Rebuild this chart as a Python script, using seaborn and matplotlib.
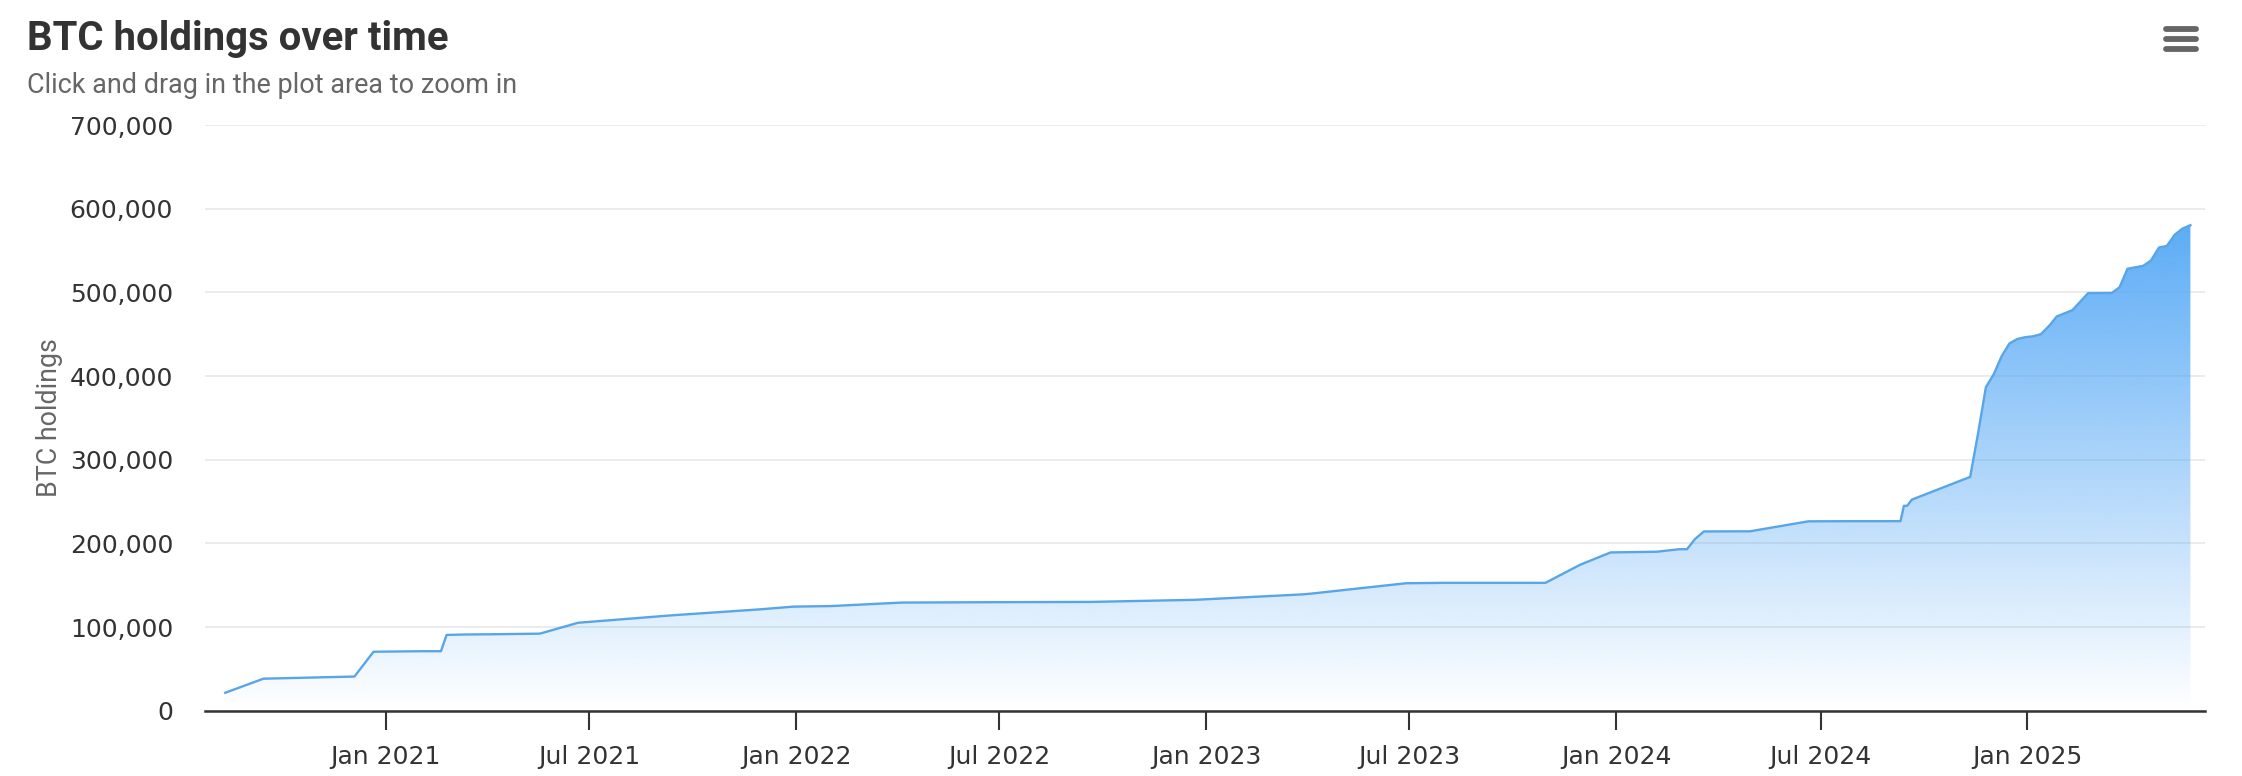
import numpy as np
import pandas as pd
import matplotlib
matplotlib.use("Agg")
import matplotlib.pyplot as plt
import matplotlib.dates as mdates
from matplotlib.ticker import FuncFormatter
from matplotlib import font_manager
import seaborn as sns

# ---------------- data ----------------
dates = [
    "2020-08-11", "2020-09-14", "2020-12-04", "2020-12-21", "2021-02-02",
    "2021-02-19", "2021-02-24", "2021-03-12", "2021-04-05", "2021-05-18",
    "2021-06-21", "2021-09-13", "2021-11-29", "2021-12-30", "2022-02-01",
    "2022-04-05", "2022-06-29", "2022-09-20", "2022-12-22", "2023-03-27",
    "2023-04-05", "2023-06-28", "2023-07-31", "2023-10-30", "2023-11-30",
    "2023-12-27", "2024-02-06", "2024-02-26", "2024-03-04", "2024-03-11",
    "2024-03-19", "2024-04-29", "2024-06-20", "2024-08-01", "2024-09-10",
    "2024-09-13", "2024-09-16", "2024-09-20", "2024-11-11", "2024-11-18",
    "2024-11-25", "2024-12-02", "2024-12-09", "2024-12-16", "2024-12-23",
    "2024-12-30", "2025-01-06", "2025-01-13", "2025-01-21", "2025-01-27",
    "2025-02-10", "2025-02-24", "2025-03-17", "2025-03-24", "2025-03-31",
    "2025-04-14", "2025-04-21", "2025-04-28", "2025-05-05", "2025-05-12",
    "2025-05-19", "2025-05-26",
]
holdings = [
    21454, 38250, 40824, 70470, 71079,
    71079, 90531, 91064, 91326, 92079,
    105085, 114042, 121044, 124391, 125051,
    129218, 129699, 130000, 132500, 138955,
    140000, 152333, 152800, 152800, 174530,
    189150, 190000, 193000, 193000, 205000,
    214246, 214400, 226331, 226500, 226500,
    244800, 245000, 252220, 279420, 331200,
    386700, 402100, 423650, 439000, 444262,
    446400, 447470, 450000, 461000, 471107,
    478740, 499096, 499226, 506137, 528185,
    531644, 538200, 553555, 555450, 568840,
    576230, 580250,
]
y_ticks = [0, 100000, 200000, 300000, 400000, 500000, 600000, 700000]
title_text = "BTC holdings over time"
subtitle_text = "Click and drag in the plot area to zoom in"
y_label_text = "BTC holdings"

df = pd.DataFrame({"date": pd.to_datetime(dates), "holdings": holdings})

installed = {f.name for f in font_manager.fontManager.ttflist}
title_family = [f for f in ["Liberation Sans Narrow", "Roboto", "DejaVu Sans"] if f in installed]
text_family = [f for f in ["Roboto", "Liberation Sans", "DejaVu Sans"] if f in installed]

# ---------------- figure ----------------
W_PX, H_PX = 2242, 776
fig = plt.figure(figsize=(W_PX / 100, H_PX / 100), dpi=100)
fig.patch.set_facecolor("white")

left, right = 205 / W_PX, 2205 / W_PX
bottom, top = (H_PX - 710.7) / H_PX, (H_PX - 125) / H_PX
ax = fig.add_axes([left, bottom, right - left, top - bottom])
ax.set_facecolor("white")

line_color = "#58a5e8"
fill_rgb = np.array([92, 172, 246]) / 255.0

sns.lineplot(data=df, x="date", y="holdings", ax=ax, color=line_color,
             linewidth=1.7, zorder=4)

# gradient area fill, clipped to the area under the line
xnum = mdates.date2num(df["date"])
poly = ax.fill_between(df["date"], 0, df["holdings"], facecolor="none",
                       edgecolor="none", zorder=3)
ymax_data = max(holdings)
n = 256
grad = np.zeros((n, 1, 4))
grad[:, 0, :3] = fill_rgb
grad[:, 0, 3] = np.linspace(1.0, 0.0, n)  # top -> bottom
im = ax.imshow(grad, extent=[xnum.min(), xnum.max(), 0, ymax_data],
               aspect="auto", origin="upper", zorder=3, interpolation="bilinear")
im.set_clip_path(poly.get_paths()[0], transform=ax.transData)

# axes limits
ax.set_xlim(pd.Timestamp("2020-07-24"), pd.Timestamp("2025-06-08"))
ax.set_ylim(0, 700000)

# grid / spines
ax.set_yticks(y_ticks)
ax.yaxis.set_major_formatter(FuncFormatter(lambda v, p: f"{int(v):,}"))
ax.grid(axis="y", color="#e6e6e6", linewidth=1.1, zorder=0)
ax.grid(axis="x", visible=False)
ax.set_axisbelow(True)
for s in ["top", "right", "left"]:
    ax.spines[s].set_visible(False)
ax.spines["bottom"].set_color("#333333")
ax.spines["bottom"].set_linewidth(1.8)
ax.spines["bottom"].set_zorder(5)

ax.xaxis.set_major_locator(mdates.MonthLocator(bymonth=[1, 7]))
ax.xaxis.set_major_formatter(mdates.DateFormatter("%b %Y"))
ax.tick_params(axis="x", length=13.4, width=1.5, color="#333333",
               labelsize=18, labelcolor="#333333", pad=11)
ax.tick_params(axis="y", length=0, labelsize=18, labelcolor="#333333", pad=23)
for lab in ax.get_xticklabels() + ax.get_yticklabels():
    lab.set_family("DejaVu Sans")
ax.set_xlabel("")
ax.set_ylabel("")

# ---------------- texts ----------------
title = fig.text(27 / W_PX, (H_PX - 50) / H_PX, title_text, ha="left",
                 va="baseline", fontsize=30, fontweight="bold", color="#333333",
                 family=title_family)
subtitle = fig.text(27 / W_PX, (H_PX - 93) / H_PX, subtitle_text, ha="left",
                    va="baseline", fontsize=19, color="#666666",
                    family=text_family)
ylab = fig.text(50 / W_PX, (H_PX - 418) / H_PX, y_label_text, ha="center",
                va="center", rotation=90, fontsize=19, color="#666666",
                family=text_family)


def fit(t, target, vertical=False):
    fig.canvas.draw()
    r = fig.canvas.get_renderer()
    bb = t.get_window_extent(r)
    cur = bb.height if vertical else bb.width
    if cur > 0:
        t.set_fontsize(t.get_fontsize() * target / cur)


fit(title, 421)
fit(subtitle, 489)
fit(ylab, 158, vertical=True)

# hamburger menu icon (top right)
for yy in (29, 39, 49):
    fig.add_artist(plt.Line2D([2166 / W_PX, 2196 / W_PX],
                              [(H_PX - yy) / H_PX, (H_PX - yy) / H_PX],
                              transform=fig.transFigure, color="#666666",
                              linewidth=4.2, solid_capstyle="round"))

fig.savefig("out.png", dpi=100, facecolor="white")
